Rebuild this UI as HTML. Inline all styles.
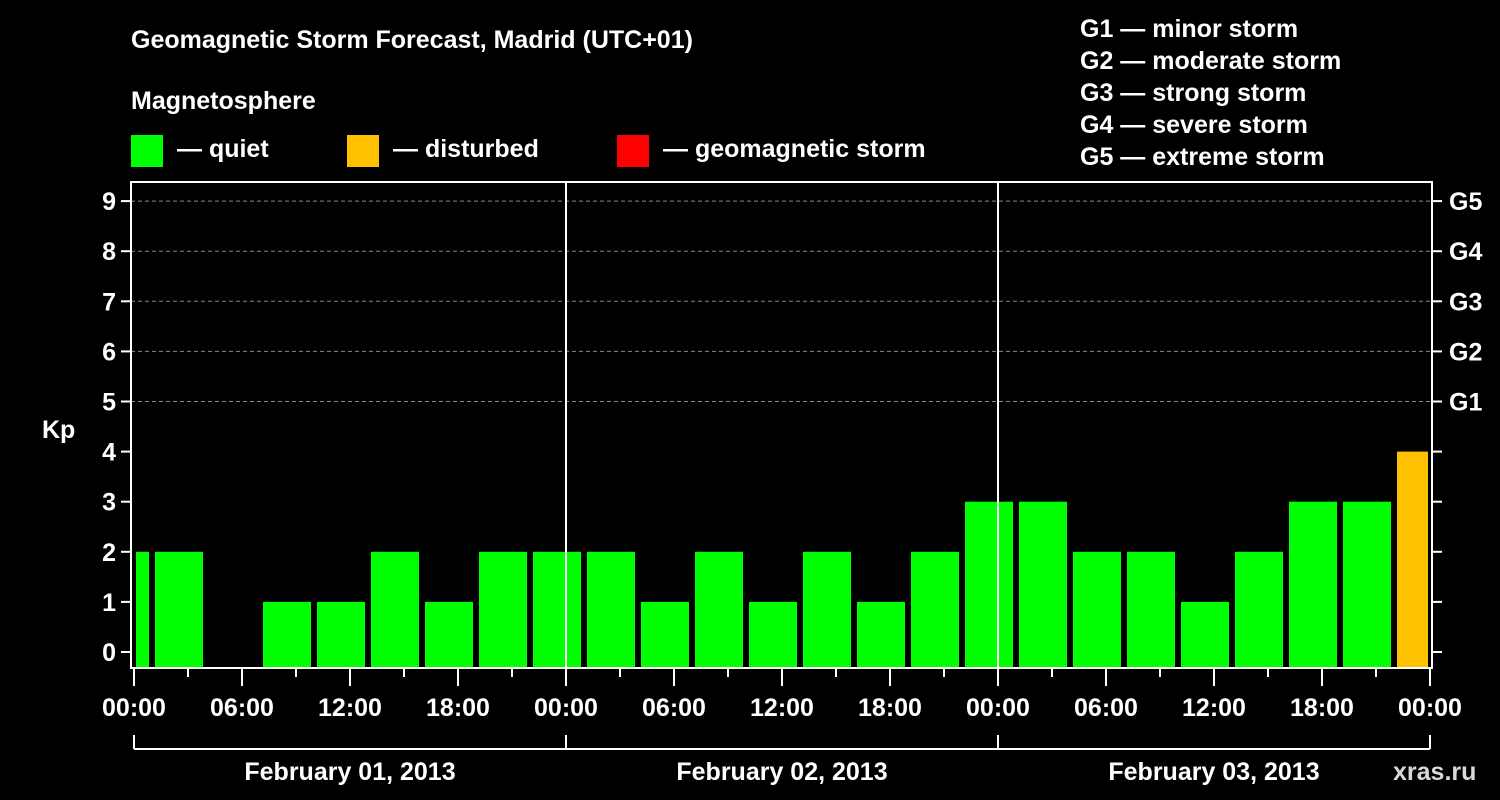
<!DOCTYPE html>
<html><head><meta charset="utf-8"><style>
html,body{margin:0;padding:0;background:#000;width:1500px;height:800px;overflow:hidden}
svg text{font-family:"Liberation Sans",Arial,sans-serif;font-weight:bold;fill:#fff}
</style></head><body>
<svg id="chart" width="1500" height="800" xmlns="http://www.w3.org/2000/svg">
<text x="131" y="48" font-size="25">Geomagnetic Storm Forecast, Madrid (UTC+01)</text>
<text x="131" y="109" font-size="25">Magnetosphere</text>
<rect x="131" y="135" width="32" height="32" fill="#00ff00"/>
<text x="177" y="157" font-size="25">— quiet</text>
<rect x="347" y="135" width="32" height="32" fill="#ffc000"/>
<text x="393" y="157" font-size="25">— disturbed</text>
<rect x="617" y="135" width="32" height="32" fill="#ff0000"/>
<text x="663" y="157" font-size="25">— geomagnetic storm</text>
<g font-size="25">
<text x="1080" y="37">G1 — minor storm</text>
<text x="1080" y="69">G2 — moderate storm</text>
<text x="1080" y="101">G3 — strong storm</text>
<text x="1080" y="133">G4 — severe storm</text>
<text x="1080" y="165">G5 — extreme storm</text>
</g>
<text x="42" y="438" font-size="25">Kp</text>
<text x="1393" y="780" font-size="25" fill="#ccc" style="fill:#d8d8d8">xras.ru</text>
<g id="grid"></g><g id="bars"></g><g id="axes"></g>
</svg>
<script>
const kpValues=[2,2,0,1,1,2,1,2,2,2,1,2,1,2,1,2,3,3,2,2,1,2,3,3,4];
const yTicks=[0,1,2,3,4,5,6,7,8,9];
const gLabels=["G1","G2","G3","G4","G5"];
const xTickLabels=["00:00","06:00","12:00","18:00","00:00","06:00","12:00","18:00","00:00","06:00","12:00","18:00","00:00"];
const dayLabels=["February 01, 2013","February 02, 2013","February 03, 2013"];
const NS="http://www.w3.org/2000/svg";
const L=131,R=1432,T=182,B=668,X0=134,PXH=18;
const y=v=>652-v*50.1;
const x=h=>X0+h*PXH;
function mk(tag,attrs,parent,text){const e=document.createElementNS(NS,tag);for(const k in attrs)e.setAttribute(k,attrs[k]);if(text!==undefined)e.textContent=text;document.getElementById(parent).appendChild(e);return e;}
// grid
for(let v=5;v<=9;v++){const e=mk('line',{x1:L,x2:R,y1:y(v),y2:y(v),stroke:'#888','stroke-dasharray':'4,3','stroke-width':1},'grid');

}
// bars
const clipL=136,clipR=1428;
kpValues.forEach((v,k)=>{if(v<=0)return;const c=x(-0.5+3*k);let x1=Math.max(c-24,clipL),x2=Math.min(c+24,clipR);
const col=v>=5?'#ff0000':(v>=4?'#ffc000':'#00ff00');
const e=mk('rect',{x:x1,y:y(v),width:x2-x1,height:B-y(v),fill:col},'bars');

});
// frame
const f=mk('path',{d:`M${L} ${T}H${R}V${B}H${L}Z`,fill:'none',stroke:'#fff','stroke-width':2},'axes');


[1,2].forEach(d=>{const e=mk('line',{x1:x(24*d),x2:x(24*d),y1:T,y2:B,stroke:'#fff','stroke-width':2},'axes');

});
yTicks.forEach(v=>{
mk('line',{x1:121,x2:L,y1:y(v),y2:y(v),stroke:'#fff','stroke-width':2},'axes');
mk('line',{x1:R,x2:1442,y1:y(v),y2:y(v),stroke:'#fff','stroke-width':2},'axes');
const t=mk('text',{x:116,y:y(v)+9,'font-size':25,'text-anchor':'end'},'axes',String(v));

});
gLabels.forEach((g,i)=>{const t=mk('text',{x:1449,y:y(5+i)+9,'font-size':25},'axes',g);

});
for(let h=0;h<=72;h+=3){mk('line',{x1:x(h),x2:x(h),y1:B,y2:h%6==0?686:677,stroke:'#fff','stroke-width':2},'axes');}
xTickLabels.forEach((s,i)=>{const t=mk('text',{x:x(6*i),y:716,'font-size':25,'text-anchor':'middle'},'axes',s);

});
const br=mk('line',{x1:x(0),x2:x(72),y1:749,y2:749,stroke:'#fff','stroke-width':2},'axes');


for(let d=0;d<=3;d++)mk('line',{x1:x(24*d),x2:x(24*d),y1:735,y2:749,stroke:'#fff','stroke-width':2},'axes');
dayLabels.forEach((s,i)=>{const t=mk('text',{x:x(24*i+12),y:780,'font-size':25,'text-anchor':'middle'},'axes',s);

});
</script>
</body></html>
